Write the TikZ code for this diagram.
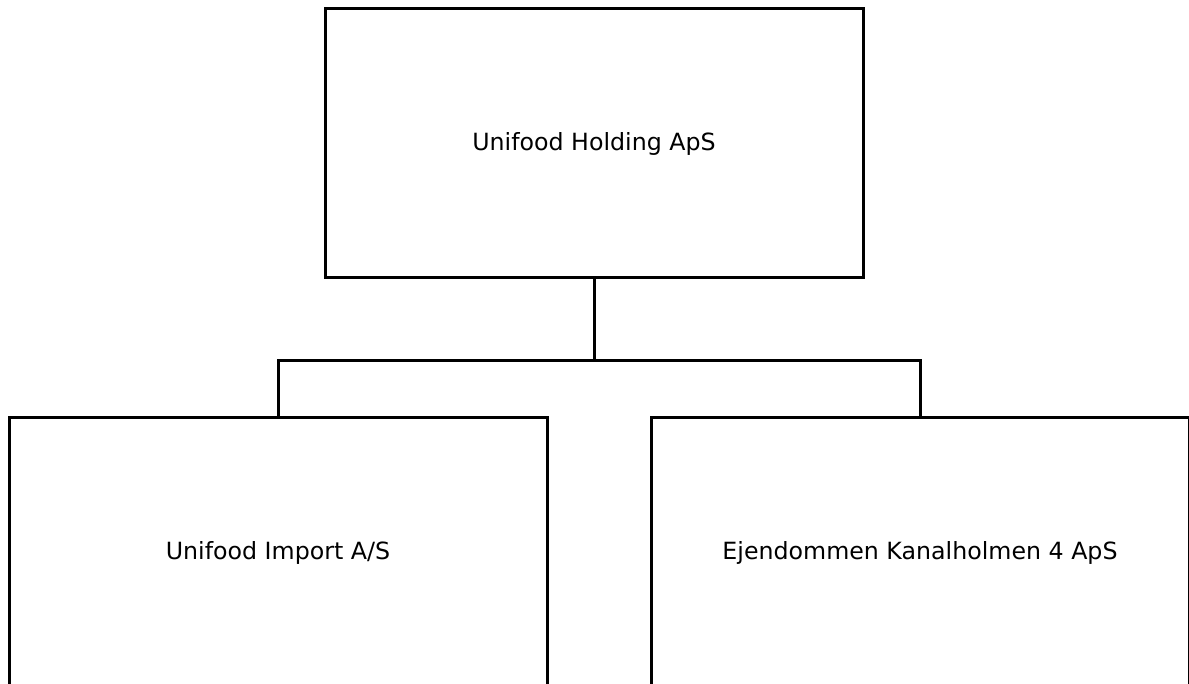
\documentclass[tikz,border=0pt]{standalone}
\usepackage{fontspec}
\setmainfont{DejaVu Sans}
\begin{document}
\begin{tikzpicture}[x=1pt,y=-1pt,
  orgbox/.style={draw=black,line width=3pt,minimum width=538pt,minimum height=269pt,inner sep=0pt,font=\fontsize{23.7}{28}\selectfont},
  link/.style={draw=black,line width=3pt}]
\useasboundingbox (0,0) rectangle (1189,684);
\clip (0,0) rectangle (1189,684);
\node[orgbox] (top) at (594,143.5) {Unifood Holding ApS};
\node[orgbox] (left) at (278,552.5) {Unifood Import A/S};
\node[orgbox] (right) at (920,552.5) {Ejendommen Kanalholmen 4 ApS};
\coordinate (bus) at (594,361);
\draw[link] (top.south) -- (bus);
\draw[link] (left.north) |- (bus) -| (right.north);
\end{tikzpicture}
\end{document}
